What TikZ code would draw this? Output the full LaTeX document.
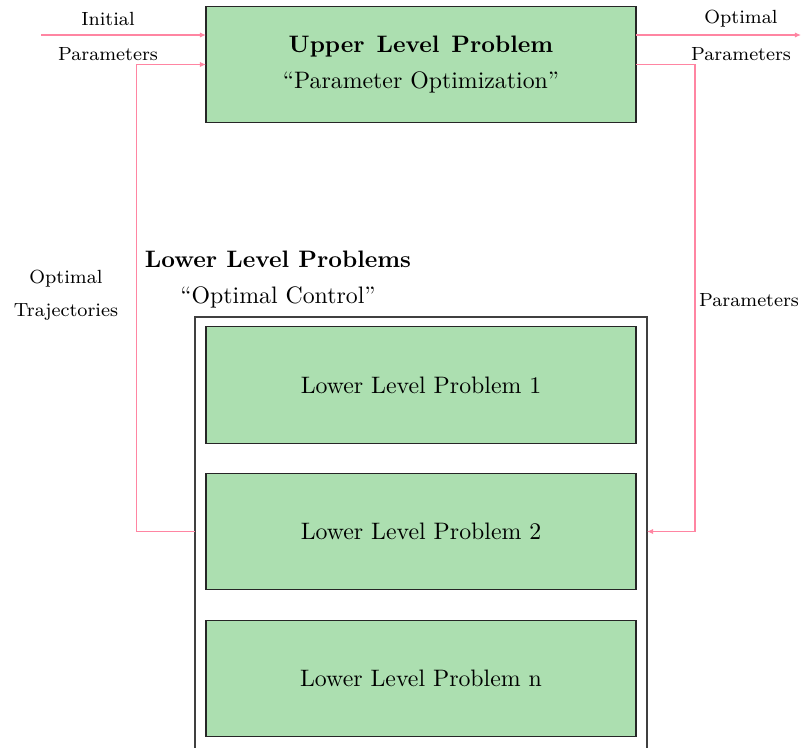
\documentclass[tikz,border=0pt]{standalone}
\usetikzlibrary{arrows.meta,calc}
\definecolor{boxgreen}{HTML}{ACDFB0}
\definecolor{linkpink}{HTML}{FF85A2}
\begin{document}
\begin{tikzpicture}[x=0.42pt,y=-0.42pt,
  problem/.style={draw=black!85,line width=0.5pt,fill=boxgreen,
    minimum width=180.6pt,minimum height=49pt,inner sep=0pt,outer sep=0pt,align=center},
  group/.style={draw=black!75,line width=0.5pt,minimum width=189.8pt,
    minimum height=186pt,inner sep=0pt,outer sep=0pt},
  link/.style={draw=linkpink,line width=0.45pt,-{Latex[length=2.6pt,width=2.2pt]}},
  lbl/.style={font=\footnotesize,inner sep=0pt,anchor=center}]
  \useasboundingbox (0,0) rectangle (802,747);
  \clip (0,0) rectangle (802,747);

  % upper level box
  \node[problem] (upper) at (421,64.5)
    {\textbf{Upper\hspace{5pt}Level\hspace{5pt}Problem}\\[3.5pt]``Parameter Optimization''};

  % container of the lower level problems (runs past the lower edge)
  \node[group] (lowergroup) at (421,538.5) {};
  \node[align=center,inner sep=0pt] (grouptitle) at (278,279.5)
    {\textbf{Lower Level Problems}\\[3.5pt]``Optimal Control''};

  \node[problem] (p1) at (421,385) {Lower Level Problem 1};
  \node[problem] (p2) at (421,531.5) {Lower Level Problem 2};
  \node[problem] (pn) at (421,678.5) {Lower Level Problem n};

  % input and output parameters
  \coordinate (ini) at (41,35);
  \coordinate (outp) at (801,35);
  \draw[link] (ini) -- (ini -| upper.west);
  \draw[link] (outp -| upper.east) -- (outp);
  \node[lbl] (tinit) at (108,19) {Initial};
  \node[lbl] (tinpar) at (108,54) {Parameters};
  \node[lbl] (topt) at (741,19) {Optimal};
  \node[lbl] (toutpar) at (741,54) {Parameters};

  % feedback loop between the two levels
  \draw[link] (lowergroup.west |- p2.center) -- ++(-59,0) |- (upper.west);
  \draw[link] (upper.east) -- ++(59,0) |- (lowergroup.east |- p2.center);
  \node[lbl] (ttraj1) at (66,279) {Optimal};
  \node[lbl] (ttraj2) at (66,312) {Trajectories};
  \node[lbl] (tpar) at (749,300) {Parameters};
\end{tikzpicture}
\end{document}
